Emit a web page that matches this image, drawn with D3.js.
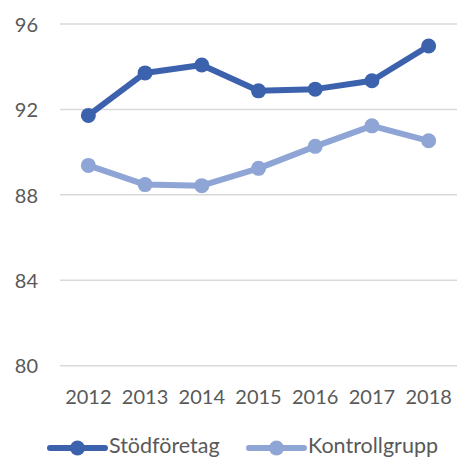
<!DOCTYPE html>
<html>
<head>
<meta charset="utf-8">
<script src="https://cdn.jsdelivr.net/npm/d3@7"></script>
<style>
  html, body { margin: 0; padding: 0; background: #fff; }
  svg { display: block; }
  text { font-family: Lato, "Open Sans", sans-serif; fill: #595959; }
</style>
</head>
<body>
<svg id="chart" width="457" height="458"></svg>
<script>
const years = ["2012", "2013", "2014", "2015", "2016", "2017", "2018"];
const stodforetag = [91.72, 93.71, 94.08, 92.87, 92.95, 93.34, 94.97];
const kontrollgrupp = [89.38, 88.48, 88.43, 89.24, 90.27, 91.23, 90.53];
const yTicks = [80, 84, 88, 92, 96];
const seriesNames = ["Stödföretag", "Kontrollgrupp"];
const seriesColors = ["#3D62AD", "#8FA5D6"];

const svg = d3.select("#chart");
const x = d3.scaleBand().domain(years).range([60, 457]);
const y = d3.scaleLinear().domain([80, 96]).range([365.7, 24]);

// gridlines
svg.append("g")
  .selectAll("line")
  .data(yTicks)
  .join("line")
  .attr("x1", 60).attr("x2", 457)
  .attr("y1", d => y(d)).attr("y2", d => y(d))
  .attr("stroke", "#D9D9D9").attr("stroke-width", 1.5);

// y axis labels
const yAxis = d3.axisLeft(y).tickValues(yTicks).tickSize(0).tickPadding(0);
const yg = svg.append("g").attr("transform", "translate(38,0)").call(yAxis);
yg.select(".domain").remove();
yg.selectAll("text").attr("font-size", 20).attr("dy", "0.36em")
  .style("font-family", "Lato, sans-serif").attr("fill", "#595959");

// x axis labels
const xAxis = d3.axisBottom(x).tickSize(0).tickPadding(0);
const xg = svg.append("g").attr("transform", "translate(0,397)").call(xAxis);
xg.select(".domain").remove();
xg.selectAll("text").attr("font-size", 20).attr("dy", "0.36em")
  .style("font-family", "Lato, sans-serif").attr("fill", "#595959");

const series = [stodforetag, kontrollgrupp];
const cx = d => x(d) + x.bandwidth() / 2;
const line = d3.line().x((d, i) => cx(years[i])).y(d => y(d));

// draw light series first, dark on top
[1, 0].forEach(si => {
  const g = svg.append("g");
  g.append("path")
    .datum(series[si])
    .attr("d", line)
    .attr("fill", "none")
    .attr("stroke", seriesColors[si])
    .attr("stroke-width", 6)
    .attr("stroke-linejoin", "round");
  g.selectAll("circle")
    .data(series[si])
    .join("circle")
    .attr("cx", (d, i) => cx(years[i]))
    .attr("cy", d => y(d))
    .attr("r", 7.5)
    .attr("fill", seriesColors[si]);
});

// legend
const legendX = [50, 249];
seriesNames.forEach((name, i) => {
  const g = svg.append("g").attr("transform", `translate(${legendX[i]},448)`);
  g.append("line").attr("x1", 0).attr("x2", 55).attr("y1", 0).attr("y2", 0)
    .attr("stroke", seriesColors[i]).attr("stroke-width", 6).attr("stroke-linecap", "round");
  g.append("circle").attr("cx", 27.5).attr("cy", 0).attr("r", 7.5).attr("fill", seriesColors[i]);
  g.append("text").attr("x", 59).attr("y", 4.5)
    .attr("font-size", 21.5).text(name);
});
</script>
</body>
</html>
